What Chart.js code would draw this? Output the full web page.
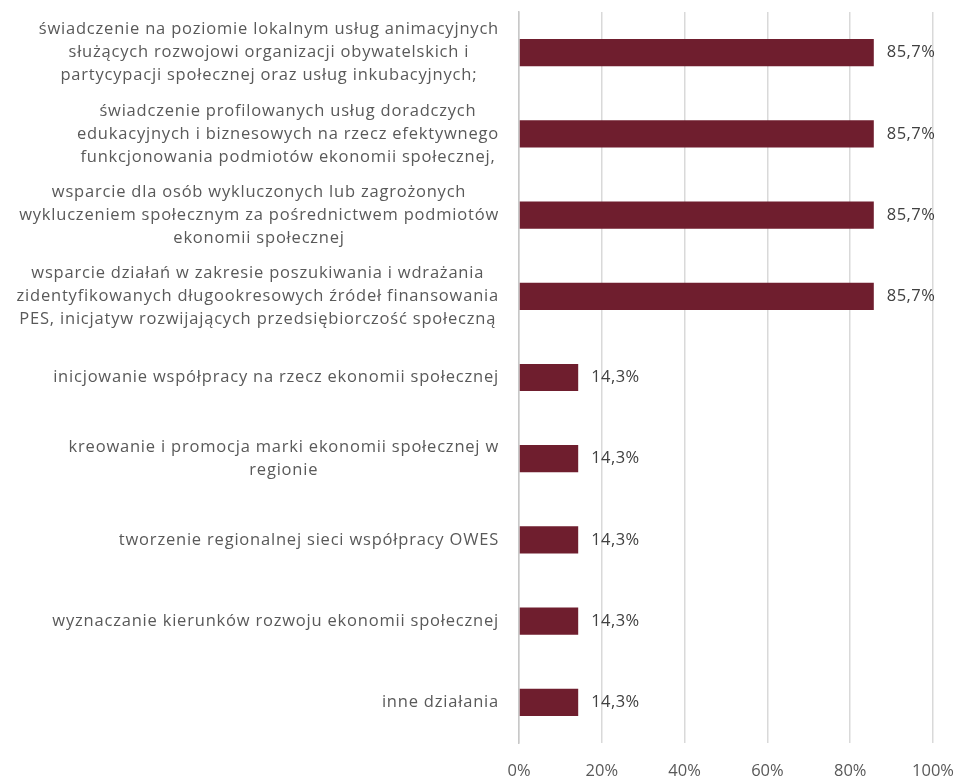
<!DOCTYPE html>
<html>
<head>
<meta charset="utf-8">
<style>
    html, body { margin: 0; padding: 0; background: #ffffff; }
    #wrap { width: 960px; height: 777px; }
</style>
</head>
<body>
<div id="wrap"><canvas id="myChart" width="960" height="777"></canvas></div>
<script type="text/javascript" src="https://cdn.jsdelivr.net/npm/chart.js@4.4.2/dist/chart.umd.min.js"></script>
<script>
// Category labels (one array entry per line)
const categories = [
    ['świadczenie na poziomie lokalnym usług animacyjnych', 'służących rozwojowi organizacji obywatelskich i', 'partycypacji społecznej oraz usług inkubacyjnych;'],
    ['świadczenie profilowanych usług doradczych', 'edukacyjnych i biznesowych na rzecz efektywnego', 'funkcjonowania podmiotów ekonomii społecznej,'],
    ['wsparcie dla osób wykluczonych lub zagrożonych', 'wykluczeniem społecznym za pośrednictwem podmiotów', 'ekonomii społecznej'],
    ['wsparcie działań w zakresie poszukiwania i wdrażania', 'zidentyfikowanych długookresowych źródeł finansowania', 'PES, inicjatyw rozwijających przedsiębiorczość społeczną'],
    ['inicjowanie współpracy na rzecz ekonomii społecznej'],
    ['kreowanie i promocja marki ekonomii społecznej w', 'regionie'],
    ['tworzenie regionalnej sieci współpracy OWES'],
    ['wyznaczanie kierunków rozwoju ekonomii społecznej'],
    ['inne działania']
];
const values = [85.7, 85.7, 85.7, 85.7, 14.3, 14.3, 14.3, 14.3, 14.3];
const xTicks = [0, 20, 40, 60, 80, 100];

const FONT = '"Open Sans", "Noto Sans", sans-serif';
const TEXT_COLOR = '#595959';
const FONT_SIZE = 16.5;
const SPACING = '0.8px';

// y-axis labels: each block right-aligned, lines centred inside the block
const categoryLabels = {
    id: 'categoryLabels',
    afterDraw(chart) {
        const ctx = chart.ctx;
        const yScale = chart.scales.y;
        const right = 499;
        const lineH = 23;
        ctx.save();
        ctx.font = FONT_SIZE + 'px ' + FONT;
        ctx.letterSpacing = SPACING;
        ctx.fillStyle = TEXT_COLOR;
        ctx.textAlign = 'center';
        ctx.textBaseline = 'middle';
        categories.forEach((lines, i) => {
            const yc = yScale.getPixelForValue(i);
            const w = Math.max(...lines.map(l => ctx.measureText(l).width));
            const cx = right - w / 2;
            const y0 = yc - (lines.length - 1) * lineH / 2;
            lines.forEach((l, j) => ctx.fillText(l, cx, y0 + j * lineH));
        });
        ctx.restore();
    }
};

// value labels at the end of each bar
const valueLabels = {
    id: 'valueLabels',
    afterDatasetsDraw(chart) {
        const ctx = chart.ctx;
        const meta = chart.getDatasetMeta(0);
        ctx.save();
        ctx.font = FONT_SIZE + 'px ' + FONT;
        ctx.letterSpacing = '0.45px';
        ctx.fillStyle = '#404040';
        ctx.textAlign = 'left';
        ctx.textBaseline = 'middle';
        meta.data.forEach((bar, i) => {
            ctx.fillText(values[i].toFixed(1).replace('.', ',') + '%', bar.x + 13, bar.y);
        });
        ctx.restore();
    }
};

const data = {
    labels: categories.map(c => c.join(' ')),
    datasets: [{
        data: values,
        backgroundColor: '#6f1e2e',
        borderWidth: 0,
        categoryPercentage: 1,
        barPercentage: 0.335
    }]
};

const config = {
    type: 'bar',
    data,
    options: {
        indexAxis: 'y',
        responsive: false,
        animation: false,
        layout: { padding: { top: 12, right: 27, left: 0, bottom: 0 } },
        plugins: {
            legend: { display: false },
            tooltip: { enabled: false }
        },
        scales: {
            x: {
                min: 0,
                max: 100,
                afterBuildTicks(scale) {
                    scale.ticks = xTicks.map(v => ({ value: v }));
                },
                afterFit(scale) {
                    scale.height = 34;
                    scale.paddingLeft = 0;
                    scale.paddingRight = 0;
                },
                grid: { color: '#d9d9d9', lineWidth: 1.5, drawTicks: false },
                border: { display: false },
                ticks: {
                    padding: 18,
                    color: TEXT_COLOR,
                    font: { family: FONT, size: FONT_SIZE },
                    callback: v => v + '%'
                }
            },
            y: {
                afterFit(scale) { scale.width = 519; },
                grid: { display: false },
                border: { display: true, color: '#c8c8c8', width: 1.5 },
                ticks: { display: false }
            }
        }
    },
    plugins: [valueLabels, categoryLabels]
};

let myChart = new Chart(document.getElementById('myChart'), config);
</script>
</body>
</html>
